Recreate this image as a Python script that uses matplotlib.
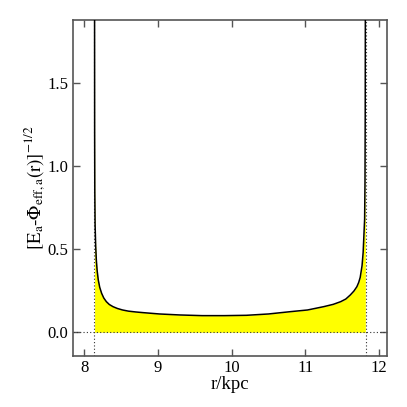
import matplotlib
matplotlib.use('Agg')
import numpy             as np
import matplotlib.pyplot as plt

# curve: r in kpc, [E_a - Phi_eff,a(r)]^(-1/2)
r_kpc = [8.140, 8.141, 8.143, 8.147, 8.155, 8.164, 8.175, 8.190, 8.210,
         8.236, 8.265, 8.300, 8.340, 8.390, 8.450, 8.520, 8.600, 8.700,
         8.800, 9.020, 9.300, 9.600, 9.900, 10.200, 10.500, 10.800, 11.030,
         11.250, 11.380, 11.480, 11.550, 11.610, 11.660, 11.700, 11.725,
         11.745, 11.770, 11.785, 11.795, 11.805, 11.810, 11.813, 11.815]
inv_sqrt = [1.95, 1.20, 0.85, 0.65, 0.52, 0.434, 0.370, 0.315, 0.270,
            0.234, 0.206, 0.184, 0.167, 0.154, 0.143, 0.134, 0.127, 0.122,
            0.118, 0.110, 0.104, 0.100, 0.100, 0.102, 0.110, 0.124, 0.134,
            0.154, 0.168, 0.184, 0.200, 0.224, 0.248, 0.274, 0.300,
            0.330, 0.400, 0.480, 0.580, 0.680, 0.900, 1.300, 1.950]

# turning points (dotted verticals)
r_peri = 8.136
r_apo  = 11.83

x_ticks = [8, 9, 10, 11, 12]
y_ticks = [0.0, 0.5, 1.0, 1.5]

plt.rcParams['font.family']      = ['Liberation Serif', 'DejaVu Serif']
plt.rcParams['mathtext.fontset'] = 'stix'

fig = plt.figure(figsize=(4.07, 4.07), dpi=100)
ax  = fig.add_axes([0.1786, 0.126, 0.7714, 0.825])

ax.fill_between(r_kpc, 0, inv_sqrt, color='#ffff00', lw=0, zorder=1)
ax.plot(r_kpc, inv_sqrt, color='k', lw=1.1, zorder=3)

dot = dict(color='#333333', lw=0.8, ls=(0, (1, 2)), zorder=2)
ax.axhline(0.0, **dot)
ax.axvline(r_peri, **dot)
ax.axvline(r_apo, **dot)

ax.set_xlim(7.843, 12.104)
ax.set_ylim(-0.141, 1.878)
ax.set_xticks(x_ticks)
ax.set_yticks(y_ticks)
ax.set_yticklabels([f'{v:.1f}' for v in y_ticks])
ax.tick_params(direction='in', length=5, width=1, color='#555555',
               top=True, right=True, labelsize=12, pad=3)
for s in ax.spines.values():
  s.set_color('#555555')
  s.set_linewidth(1.2)

ax.set_xlabel('r/kpc', fontsize=13.5, labelpad=0)
ax.set_ylabel(r'$[\mathrm{E_a}$-$\Phi_{\mathrm{eff,a}}(\mathrm{r})]^{-1/2}$',
              fontsize=13.5, labelpad=0)

plt.savefig('out.png', dpi=100)
